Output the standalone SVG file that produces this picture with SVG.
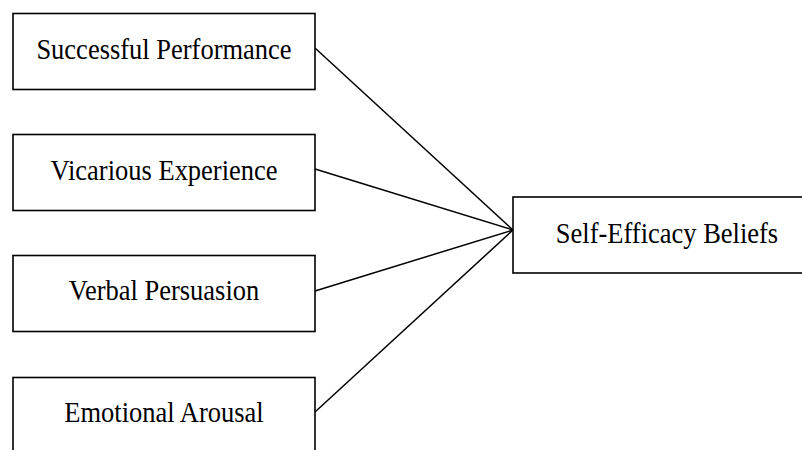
<svg xmlns="http://www.w3.org/2000/svg" width="802" height="450" viewBox="0 0 802 450">
<style>
.box{fill:#fff;stroke:#000;stroke-width:1.6}
.lbl{font-family:"Liberation Serif","Times New Roman",serif;font-size:26.5px;fill:#000;text-anchor:middle}
.edge{stroke:#000;stroke-width:1.5;fill:none}
</style>
<rect width="802" height="450" fill="#fff"/>
<g id="connectors">
<line class="edge" x1="315" y1="48" x2="513" y2="230"/>
<line class="edge" x1="315" y1="169" x2="513" y2="230"/>
<line class="edge" x1="315" y1="291" x2="513" y2="230"/>
<line class="edge" x1="315" y1="412" x2="513" y2="230"/>
</g>
<g id="n1">
<rect class="box" x="13" y="13.5" width="302" height="76"/>
<text class="lbl" transform="translate(164,59) scale(1,1.1)">Successful Performance</text>
</g>
<g id="n2">
<rect class="box" x="13" y="134.5" width="302" height="76"/>
<text class="lbl" transform="translate(164,179.5) scale(1,1.1)">Vicarious Experience</text>
</g>
<g id="n3">
<rect class="box" x="13" y="255.5" width="302" height="76"/>
<text class="lbl" transform="translate(164,299.5) scale(1,1.1)">Verbal Persuasion</text>
</g>
<g id="n4">
<rect class="box" x="13" y="377.5" width="302" height="76"/>
<text class="lbl" transform="translate(164,422) scale(1,1.1)">Emotional Arousal</text>
</g>
<g id="n5">
<rect class="box" x="513" y="197" width="308" height="76"/>
<text class="lbl" transform="translate(667,243) scale(1,1.1)">Self-Efficacy Beliefs</text>
</g>
</svg>
